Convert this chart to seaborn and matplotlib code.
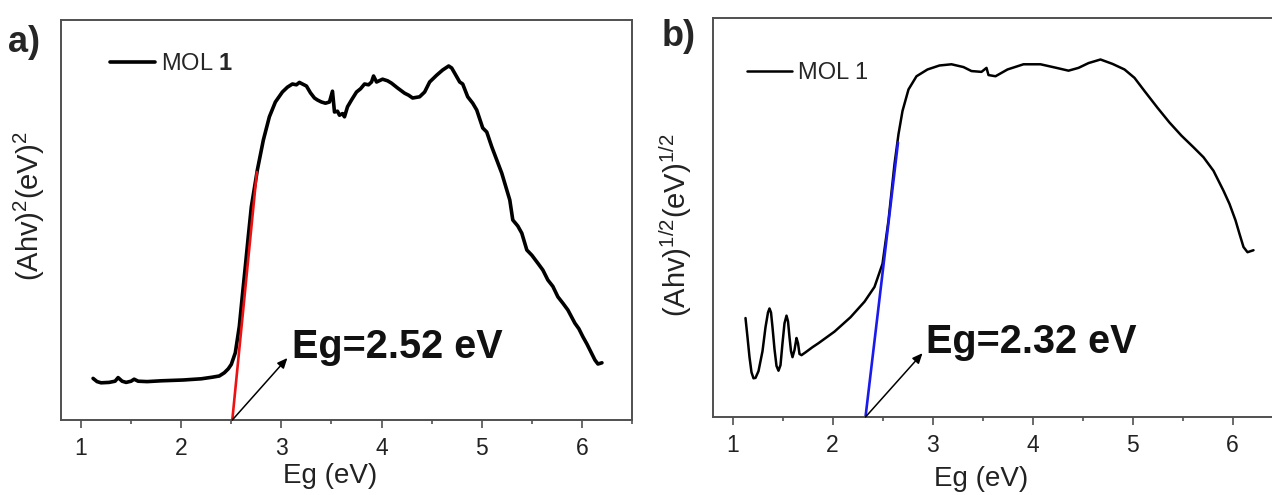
import matplotlib
matplotlib.use("Agg")
import matplotlib.pyplot as plt
import seaborn as sns

# panel a: (Ahv)^2 vs Eg, y in fractions of the axis height
a_x = [1.12, 1.16, 1.20, 1.28, 1.34, 1.37, 1.41, 1.45, 1.50, 1.53, 1.57, 1.66, 1.80, 2.02, 2.20,
       2.31, 2.38, 2.43, 2.47, 2.50, 2.54, 2.58, 2.61, 2.64, 2.67, 2.70, 2.76, 2.82, 2.88, 2.94,
       3.01, 3.06, 3.11, 3.15, 3.18, 3.21, 3.25, 3.29, 3.33, 3.36, 3.40, 3.44, 3.48, 3.51, 3.53,
       3.56, 3.58, 3.61, 3.63, 3.66, 3.70, 3.75, 3.79, 3.83, 3.87, 3.90, 3.92, 3.95, 4.01, 4.06,
       4.10, 4.16, 4.23, 4.27, 4.31, 4.38, 4.43, 4.48, 4.55, 4.61, 4.67, 4.70, 4.73, 4.78, 4.81,
       4.86, 4.91, 4.95, 5.01, 5.05, 5.10, 5.15, 5.20, 5.28, 5.31, 5.36, 5.40, 5.45, 5.50, 5.56,
       5.61, 5.66, 5.71, 5.76, 5.81, 5.86, 5.93, 5.97, 6.01, 6.05, 6.08, 6.13, 6.16, 6.20]
a_y = [0.104, 0.096, 0.093, 0.094, 0.097, 0.106, 0.097, 0.094, 0.097, 0.102, 0.097, 0.096, 0.098, 0.100, 0.103,
       0.107, 0.110, 0.118, 0.128, 0.139, 0.168, 0.234, 0.310, 0.384, 0.460, 0.533, 0.625, 0.700, 0.758, 0.795,
       0.820, 0.832, 0.840, 0.838, 0.844, 0.840, 0.835, 0.818, 0.805, 0.800, 0.795, 0.792, 0.795, 0.822, 0.770,
       0.772, 0.762, 0.766, 0.758, 0.783, 0.800, 0.820, 0.828, 0.840, 0.838, 0.845, 0.860, 0.845, 0.852, 0.848,
       0.842, 0.830, 0.817, 0.812, 0.805, 0.808, 0.820, 0.845, 0.862, 0.875, 0.885, 0.880, 0.867, 0.845, 0.840,
       0.808, 0.792, 0.775, 0.730, 0.720, 0.683, 0.650, 0.617, 0.550, 0.500, 0.485, 0.467, 0.425, 0.412, 0.392,
       0.375, 0.350, 0.334, 0.308, 0.292, 0.275, 0.242, 0.228, 0.208, 0.190, 0.175, 0.150, 0.140, 0.143]

# panel b: (Ahv)^1/2 vs Eg
b_x = [1.13, 1.15, 1.17, 1.19, 1.21, 1.23, 1.26, 1.30, 1.33, 1.355, 1.37, 1.385, 1.40, 1.42, 1.44,
       1.46, 1.48, 1.50, 1.52, 1.54, 1.555, 1.57, 1.585, 1.60, 1.62, 1.64, 1.655, 1.67, 1.69, 1.73,
       1.80, 1.86, 2.02, 2.18, 2.32, 2.42, 2.50, 2.56, 2.62, 2.66, 2.70, 2.76, 2.84, 2.95,
       3.07, 3.19, 3.31, 3.39, 3.49, 3.54, 3.56, 3.63, 3.75, 3.91, 4.08, 4.24, 4.36, 4.46, 4.56,
       4.68, 4.80, 4.92, 5.02, 5.12, 5.25, 5.37, 5.49, 5.61, 5.71, 5.81, 5.91, 5.97, 6.03, 6.07,
       6.11, 6.15, 6.21]
b_y = [0.248, 0.200, 0.150, 0.112, 0.097, 0.098, 0.115, 0.165, 0.225, 0.262, 0.272, 0.262, 0.225, 0.170, 0.128,
       0.116, 0.130, 0.185, 0.235, 0.254, 0.240, 0.200, 0.165, 0.150, 0.168, 0.198, 0.185, 0.158, 0.155, 0.162,
       0.175, 0.185, 0.214, 0.250, 0.289, 0.326, 0.384, 0.493, 0.634, 0.709, 0.767, 0.821, 0.854, 0.871,
       0.881, 0.884, 0.877, 0.867, 0.865, 0.875, 0.857, 0.854, 0.871, 0.884, 0.884, 0.875, 0.868, 0.875, 0.887,
       0.896, 0.885, 0.871, 0.850, 0.817, 0.775, 0.738, 0.705, 0.676, 0.651, 0.617, 0.567, 0.534, 0.493, 0.459,
       0.426, 0.413, 0.418]

# tangent fits
fit_a_x = [2.51, 2.755]
fit_a_y = [0.0, 0.620]
fit_b_x = [2.33, 2.655]
fit_b_y = [0.0, 0.688]

gap_a = "Eg=2.52 eV"
gap_b = "Eg=2.32 eV"
xticks = [1, 2, 3, 4, 5, 6]

sns.set_theme(style="ticks")
plt.rcParams["font.family"] = ["Liberation Sans", "DejaVu Sans"]
plt.rcParams["mathtext.fontset"] = "custom"
plt.rcParams["mathtext.rm"] = "Liberation Sans"
plt.rcParams["mathtext.it"] = "Liberation Sans:italic"
plt.rcParams["mathtext.bf"] = "Liberation Sans:bold"

W, H = 1272, 495
fig = plt.figure(figsize=(W / 100, H / 100), dpi=100)
ax_a = fig.add_axes([61 / W, 1 - 420 / H, 571 / W, 400 / H])
ax_b = fig.add_axes([712.5 / W, 1 - 417 / H, 570 / W, 399 / H])


def style_axes(ax):
    ax.set_xlim(0.8, 6.5)
    ax.set_ylim(0, 1)
    ax.set_xticks(xticks)
    ax.set_xticks([v + 0.5 for v in xticks], minor=True)
    ax.set_yticks([])
    for sp in ax.spines.values():
        sp.set_color("#505050")
        sp.set_linewidth(1.4)
    ax.tick_params(axis="x", which="major", direction="out", length=6, width=1.2,
                   color="#505050", labelsize=16.5, pad=6, labelcolor="#222222")
    ax.tick_params(axis="x", which="minor", direction="out", length=3, width=1.2,
                   color="#505050")
    ax.set_xlabel("Eg (eV)", fontsize=20, color="#222222")


sns.lineplot(x=a_x, y=a_y, ax=ax_a, color="black", lw=2.6, sort=False,
             estimator=None, label="MOL $\\mathbf{1}$")
sns.lineplot(x=fit_a_x, y=fit_a_y, ax=ax_a, color="#ee1111", lw=1.9, sort=False,
             estimator=None, legend=False)
sns.lineplot(x=b_x, y=b_y, ax=ax_b, color="black", lw=1.8, sort=False,
             estimator=None, label="MOL 1")
sns.lineplot(x=fit_b_x, y=fit_b_y, ax=ax_b, color="#1a1aee", lw=1.9, sort=False,
             estimator=None, legend=False)

for ax in (ax_a, ax_b):
    style_axes(ax)

ax_a.set_ylabel(r"(Ahv)$^2$(eV)$^2$", fontsize=21, color="#222222")
ax_b.set_ylabel(r"(Ahv)$^{1/2}$(eV)$^{1/2}$", fontsize=21, color="#222222")
ax_a.yaxis.set_label_coords(-0.025, 0.535)
ax_b.yaxis.set_label_coords(-0.032, 0.48)
ax_a.xaxis.set_label_coords(0.472, -0.108)
ax_b.xaxis.set_label_coords(0.472, -0.122)

ax_a.legend(loc="upper left", bbox_to_anchor=(0.086, 0.918), frameon=False, fontsize=17,
            borderpad=0, borderaxespad=0, handlelength=1.9, handletextpad=0.25)
ax_b.legend(loc="upper left", bbox_to_anchor=(0.061, 0.889), frameon=False, fontsize=17,
            borderpad=0, borderaxespad=0, handlelength=1.9, handletextpad=0.25)

arrow = dict(arrowstyle="-|>,head_length=0.5,head_width=0.22", color="black", lw=1.1,
             shrinkA=0, shrinkB=0)
ax_a.annotate("", xy=(3.06, 0.155), xytext=(fit_a_x[0], 0.0), arrowprops=arrow)
ax_b.annotate("", xy=(2.90, 0.160), xytext=(fit_b_x[0], 0.0), arrowprops=arrow)
ax_a.text(3.11, 0.155, gap_a, fontsize=28.5, fontweight="bold", va="baseline", ha="left",
          color="#111111")
ax_b.text(2.93, 0.160, gap_b, fontsize=28.5, fontweight="bold", va="baseline", ha="left",
          color="#111111")

fig.text(8 / W, 1 - 52 / H, "a)", fontsize=26, fontweight="bold", va="baseline", ha="left")
fig.text(662 / W, 1 - 46 / H, "b)", fontsize=26, fontweight="bold", va="baseline", ha="left")

fig.savefig("out.png", dpi=100, facecolor="white")
